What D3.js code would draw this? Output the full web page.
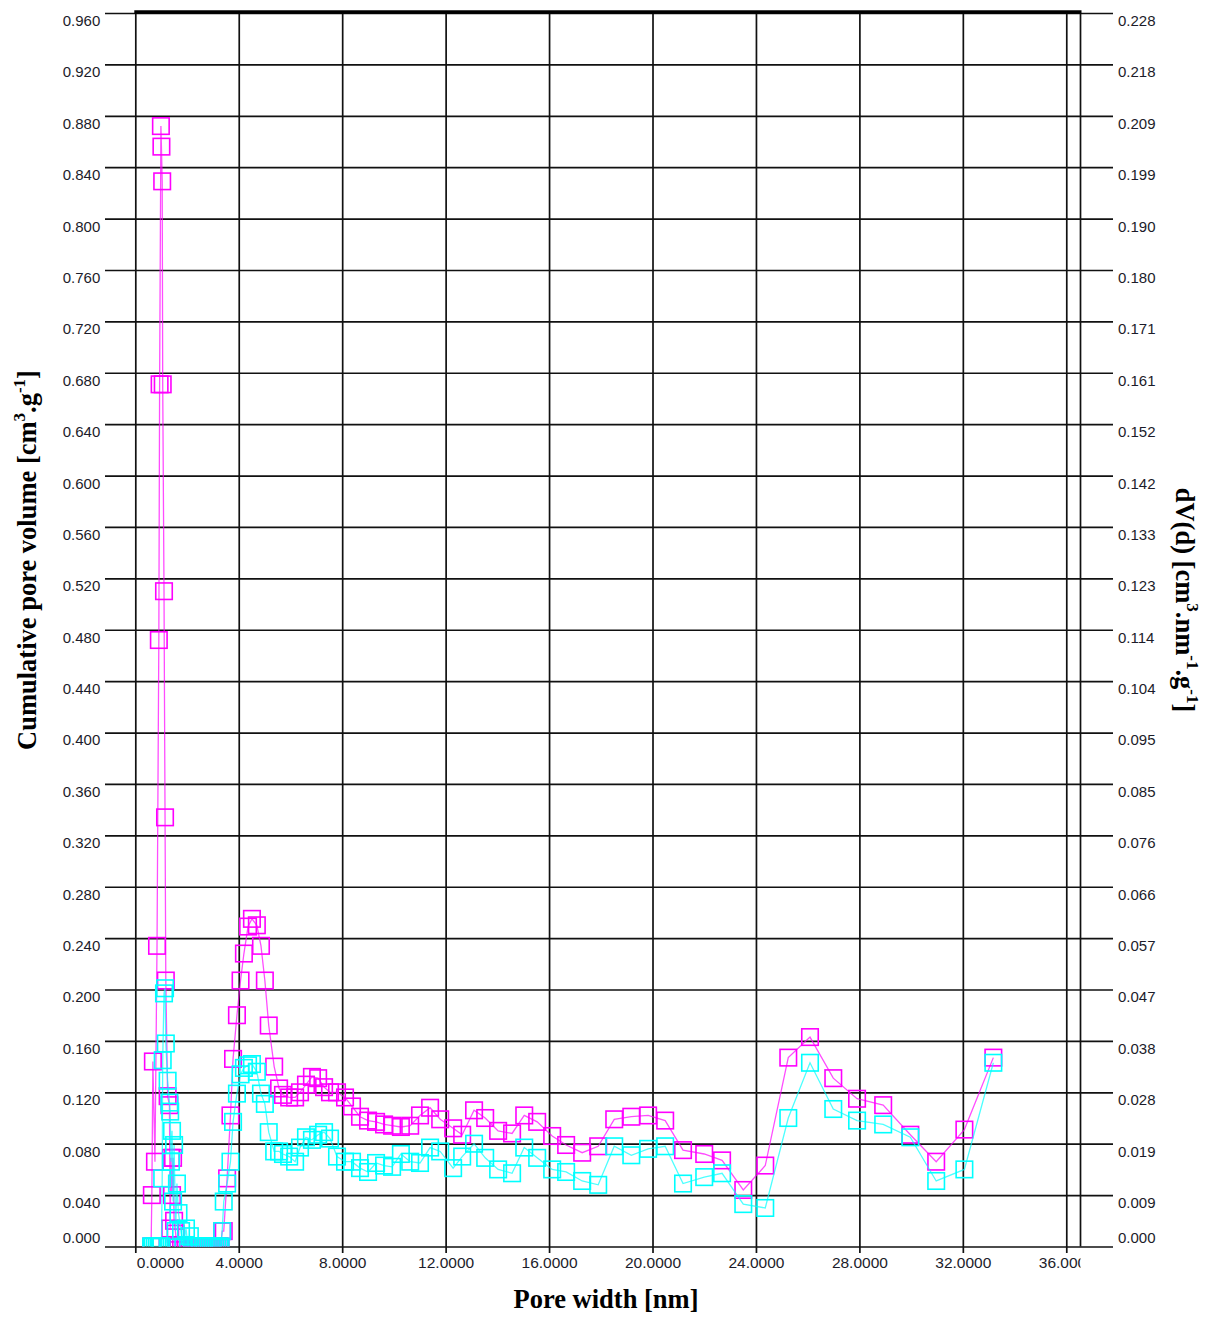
<!DOCTYPE html>
<html>
<head>
<meta charset="utf-8">
<script src="https://cdn.jsdelivr.net/npm/d3@7"></script>
<style>
    body { margin: 0; background: #fff; }
    svg { display: block; }
    .tick-label { font-family: "Liberation Sans", Arial, sans-serif; font-size: 15px; fill: #1c1c2a; }
    .axis-title { font-family: "Liberation Serif", "Times New Roman", serif; font-size: 26.5px; font-weight: bold; fill: #000; }
</style>
</head>
<body>
<svg id="chart" width="1206" height="1318"></svg>
<script>
// pore width [nm]
const poreWidth = [
    0.61, 0.64, 0.68, 0.76, 0.84, 0.91, 0.94, 0.99, 1.01, 1.04,
    1.06, 1.11, 1.15, 1.18, 1.25, 1.32, 1.35, 1.38, 1.42, 1.46,
    1.50, 1.56, 1.61, 1.67, 1.77, 1.86, 1.96, 2.04, 2.11, 2.20,
    2.28, 2.36, 2.44, 2.52, 2.60, 2.68, 2.76, 2.84, 2.92, 3.00,
    3.08, 3.16, 3.24, 3.30, 3.36, 3.42, 3.55, 3.68, 3.78, 3.93,
    4.07, 4.20, 4.36, 4.51, 4.70, 4.86, 5.01, 5.16, 5.37, 5.56,
    5.71, 5.95, 6.18, 6.37, 6.60, 6.83, 7.07, 7.30, 7.53, 7.80,
    8.11, 8.38, 8.69, 9.00, 9.31, 9.62, 9.93, 10.27, 10.63, 11.01,
    11.40, 11.79, 12.29, 12.64, 13.10, 13.53, 14.03, 14.57, 15.04, 15.54,
    16.12, 16.66, 17.28, 17.90, 18.52, 19.18, 19.83, 20.49, 21.18, 22.00,
    22.69, 23.51, 24.36, 25.25, 26.09, 26.99, 27.91, 28.92, 29.97, 30.97,
    32.06, 33.18
];

// magenta series (values on the left scale)
const magentaValues = [
    0.000, 0.040, 0.144, 0.066, 0.234, 0.472, 0.671, 0.872, 0.856, 0.829,
    0.671, 0.510, 0.334, 0.207, 0.117, 0.110, 0.014, 0.069, 0.040, 0.069,
    0.020, 0.010, 0.000, 0.000, 0.000, 0.000, 0.000, 0.000, 0.000, 0.000,
    0.000, 0.000, 0.000, 0.000, 0.000, 0.000, 0.000, 0.000, 0.000, 0.000,
    0.000, 0.000, 0.000, 0.000, 0.012, 0.012, 0.053, 0.102, 0.146, 0.180,
    0.207, 0.228, 0.249, 0.255, 0.250, 0.234, 0.207, 0.172, 0.140, 0.123,
    0.118, 0.116, 0.116, 0.120, 0.126, 0.132, 0.131, 0.124, 0.120, 0.120,
    0.116, 0.109, 0.101, 0.098, 0.097, 0.095, 0.094, 0.093, 0.094, 0.102,
    0.108, 0.099, 0.092, 0.087, 0.106, 0.100, 0.090, 0.088, 0.102, 0.097,
    0.086, 0.079, 0.073, 0.078, 0.099, 0.101, 0.102, 0.098, 0.075, 0.072,
    0.067, 0.044, 0.063, 0.147, 0.163, 0.131, 0.115, 0.110, 0.087, 0.066,
    0.091, 0.147
];

// cyan series (values on the left scale)
const cyanValues = [
    0.000, 0.000, 0.000, 0.000, 0.000, 0.000, 0.000, 0.000, 0.000, 0.053,
    0.145, 0.197, 0.201, 0.158, 0.129, 0.112, 0.105, 0.066, 0.090, 0.035,
    0.079, 0.012, 0.049, 0.026, 0.012, 0.000, 0.014, 0.000, 0.008, 0.000,
    0.000, 0.000, 0.000, 0.000, 0.000, 0.000, 0.000, 0.000, 0.000, 0.000,
    0.000, 0.000, 0.000, 0.000, 0.012, 0.035, 0.049, 0.066, 0.097, 0.119,
    0.134, 0.139, 0.141, 0.142, 0.136, 0.119, 0.111, 0.089, 0.074, 0.074,
    0.072, 0.070, 0.066, 0.077, 0.085, 0.083, 0.087, 0.089, 0.084, 0.070,
    0.066, 0.066, 0.061, 0.058, 0.065, 0.063, 0.062, 0.072, 0.066, 0.065,
    0.077, 0.074, 0.061, 0.070, 0.080, 0.069, 0.060, 0.057, 0.077, 0.069,
    0.060, 0.058, 0.051, 0.048, 0.078, 0.071, 0.076, 0.078, 0.049, 0.054,
    0.057, 0.033, 0.030, 0.100, 0.143, 0.107, 0.098, 0.095, 0.085, 0.051,
    0.060, 0.143
];

// tick positions and labels
const xTicks = [0, 4, 8, 12, 16, 20, 24, 28, 32, 36];
const xTickLabels = ["0.0000", "4.0000", "8.0000", "12.0000", "16.0000", "20.0000", "24.0000", "28.0000", "32.0000", "36.0000"];
const yTicks = [0, 0.04, 0.08, 0.12, 0.16, 0.2, 0.24, 0.28, 0.32, 0.36, 0.4, 0.44, 0.48,
                0.52, 0.56, 0.6, 0.64, 0.68, 0.72, 0.76, 0.8, 0.84, 0.88, 0.92, 0.96];
const yLeftLabels = ["0.000", "0.040", "0.080", "0.120", "0.160", "0.200", "0.240", "0.280", "0.320",
                     "0.360", "0.400", "0.440", "0.480", "0.520", "0.560", "0.600", "0.640", "0.680",
                     "0.720", "0.760", "0.800", "0.840", "0.880", "0.920", "0.960"];
const yRightLabels = ["0.000", "0.009", "0.019", "0.028", "0.038", "0.047", "0.057", "0.066", "0.076",
                      "0.085", "0.095", "0.104", "0.114", "0.123", "0.133", "0.142", "0.152", "0.161",
                      "0.171", "0.180", "0.190", "0.199", "0.209", "0.218", "0.228"];

const plotLeft = 135.3, plotRight = 1080.5, plotTop = 13, plotBottom = 1246.5;

const svg = d3.select('#chart');

const x = d3.scaleLinear().domain([0, 36.55]).range([plotLeft, plotRight]);
const y = d3.scaleLinear().domain([0, 0.96]).range([plotBottom, plotTop]);

// clip paths: data area and x label strip
const defs = svg.append('defs');
defs.append('clipPath').attr('id', 'plot-clip')
    .append('rect')
    .attr('x', plotLeft).attr('y', plotTop)
    .attr('width', plotRight - plotLeft).attr('height', plotBottom - plotTop);
defs.append('clipPath').attr('id', 'xlabel-clip')
    .append('rect')
    .attr('x', plotLeft).attr('y', plotBottom)
    .attr('width', plotRight - plotLeft).attr('height', 40);

// horizontal grid lines (also serve as outer ticks on both sides)
const hGrid = svg.append('g')
    .attr('transform', 'translate(105,0)')
    .call(d3.axisRight(y).tickValues(yTicks).tickSize(1008).tickFormat(''));
hGrid.select('.domain').remove();
hGrid.selectAll('line').attr('stroke', '#111').attr('stroke-width', 1.7);

// vertical grid lines
const vGrid = svg.append('g')
    .attr('transform', `translate(0,${plotTop})`)
    .call(d3.axisBottom(x).tickValues(xTicks).tickSize(1253 - plotTop).tickFormat(''));
vGrid.select('.domain').remove();
vGrid.selectAll('line').attr('stroke', '#111').attr('stroke-width', 1.7);

// right border and heavy top border
svg.append('line')
    .attr('x1', plotRight).attr('x2', plotRight)
    .attr('y1', plotTop).attr('y2', plotBottom)
    .attr('stroke', '#111').attr('stroke-width', 1.7);
svg.append('line')
    .attr('x1', plotLeft - 1).attr('x2', plotRight + 1)
    .attr('y1', 12).attr('y2', 12)
    .attr('stroke', '#000').attr('stroke-width', 3.5);

// left tick labels
const leftAxis = svg.append('g')
    .attr('transform', `translate(${plotLeft},0)`)
    .call(d3.axisLeft(y).tickValues(yTicks).tickSize(0).tickPadding(35)
        .tickFormat((d, i) => yLeftLabels[i]));
leftAxis.select('.domain').remove();
leftAxis.attr('font-size', null).attr('font-family', null);
leftAxis.selectAll('text')
    .attr('class', 'tick-label')
    .attr('fill', null)
    .attr('dy', d => d === 0 ? '-0.27em' : '0.83em');

// right tick labels
const rightAxis = svg.append('g')
    .attr('transform', 'translate(1113,0)')
    .call(d3.axisRight(y).tickValues(yTicks).tickSize(0).tickPadding(5)
        .tickFormat((d, i) => yRightLabels[i]));
rightAxis.select('.domain').remove();
rightAxis.attr('font-size', null).attr('font-family', null);
rightAxis.selectAll('text')
    .attr('class', 'tick-label')
    .attr('fill', null)
    .attr('dy', d => d === 0 ? '-0.27em' : '0.83em');

// bottom tick labels (clipped to the plot width like the original)
const bottomAxis = svg.append('g')
    .attr('clip-path', 'url(#xlabel-clip)')
    .append('g')
    .attr('transform', `translate(0,${plotBottom})`)
    .call(d3.axisBottom(x).tickValues(xTicks).tickSize(0).tickPadding(10)
        .tickFormat((d, i) => xTickLabels[i]));
bottomAxis.select('.domain').remove();
bottomAxis.attr('font-size', null).attr('font-family', null);
bottomAxis.selectAll('text')
    .attr('class', 'tick-label')
    .attr('fill', null)
    .style('font-size', '15.5px')
    .attr('text-anchor', d => d === 0 ? 'start' : 'middle')
    .attr('x', d => d === 0 ? 1 : 0);

// series
const seriesList = [
    { name: 'magenta', color: '#ff00ff', values: magentaValues },
    { name: 'cyan', color: '#00ffff', values: cyanValues }
];

const dataGroup = svg.append('g').attr('clip-path', 'url(#plot-clip)');
const lineGen = d3.line()
    .x(d => x(d.w))
    .y(d => y(d.v));
const markerSize = 16.5;

seriesList.forEach(s => {
    const points = poreWidth.map((w, i) => ({ w: w, v: s.values[i] }));
    const g = dataGroup.append('g').attr('class', 'series-' + s.name);

    g.append('path')
        .datum(points)
        .attr('d', lineGen)
        .attr('fill', 'none')
        .attr('stroke', s.color)
        .attr('stroke-opacity', 0.7)
        .attr('stroke-width', 1.3);

    g.selectAll('rect')
        .data(points)
        .enter()
        .append('rect')
        .attr('x', d => x(d.w) - markerSize / 2)
        .attr('y', d => y(d.v) - markerSize / 2)
        .attr('width', markerSize)
        .attr('height', markerSize)
        .attr('fill', 'none')
        .attr('stroke', s.color)
        .attr('stroke-width', 1.6);
});

// axis titles
svg.append('text')
    .attr('class', 'axis-title')
    .attr('x', 606).attr('y', 1308)
    .attr('text-anchor', 'middle')
    .text('Pore width [nm]');

const leftTitle = svg.append('text')
    .attr('class', 'axis-title')
    .attr('transform', 'translate(36,560) rotate(-90)')
    .attr('text-anchor', 'middle');
leftTitle.append('tspan').text('Cumulative pore volume [cm');
leftTitle.append('tspan').attr('font-size', 17).attr('dy', -11).text('3');
leftTitle.append('tspan').attr('dy', 11).text('.g');
leftTitle.append('tspan').attr('font-size', 17).attr('dy', -11).text('-1');
leftTitle.append('tspan').attr('dy', 11).text(']');

const rightTitle = svg.append('text')
    .attr('class', 'axis-title')
    .attr('transform', 'translate(1176,600) rotate(90)')
    .attr('text-anchor', 'middle');
rightTitle.append('tspan').text('dV(d) [cm');
rightTitle.append('tspan').attr('font-size', 17).attr('dy', -11).text('3');
rightTitle.append('tspan').attr('dy', 11).text('.nm');
rightTitle.append('tspan').attr('font-size', 17).attr('dy', -11).text('-1');
rightTitle.append('tspan').attr('dy', 11).text('.g');
rightTitle.append('tspan').attr('font-size', 17).attr('dy', -11).text('-1');
rightTitle.append('tspan').attr('dy', 11).text(']');
</script>
</body>
</html>
